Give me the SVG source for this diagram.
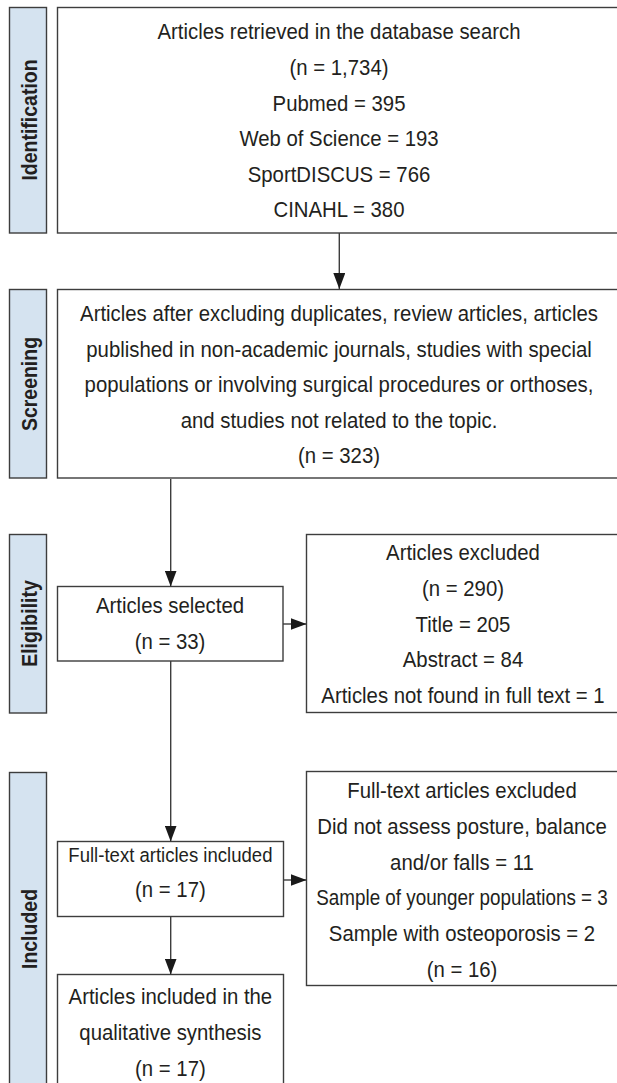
<svg xmlns="http://www.w3.org/2000/svg" width="617" height="1083" viewBox="0 0 617 1083">
<defs>
<style>
.bg{fill:#ffffff}
.box{fill:#ffffff;stroke:#3d3d3d;stroke-width:1.4}
.side{fill:#d5e3f0;stroke:#3d3d3d;stroke-width:1.4}
.t{font-family:"Liberation Sans",Arial,sans-serif;font-size:22.5px;fill:#231f20;text-anchor:middle}
.lab{font-family:"Liberation Sans",Arial,sans-serif;font-size:22px;font-weight:bold;fill:#231f20;text-anchor:middle}
.conn{fill:none;stroke:#3d3d3d;stroke-width:1.4}
</style>
<marker id="ah" markerUnits="userSpaceOnUse" markerWidth="16" markerHeight="12" refX="16" refY="6" orient="auto">
<path d="M0,0 L16,6 L0,12 Z" fill="#1a1a1a"/>
</marker>
</defs>
<rect class="bg" x="0" y="0" width="617" height="1083"/>

<g id="label-identification">
<rect class="side" x="9.5" y="7.5" width="37" height="225.5"/>
<text class="lab" transform="translate(28,120) rotate(-90) scale(0.886,1)" x="0" y="8.5">Identification</text>
</g>
<g id="node-identification">
<rect class="box" x="57.5" y="7.5" width="565" height="225.5"/>
<g transform="translate(339,0) scale(0.905,1)">
<text class="t" x="0" y="39.5">Articles retrieved in the database search</text>
<text class="t" x="0" y="75.1">(n = 1,734)</text>
<text class="t" x="0" y="110.7">Pubmed = 395</text>
<text class="t" x="0" y="146.3">Web of Science = 193</text>
<text class="t" x="0" y="181.9">SportDISCUS = 766</text>
<text class="t" x="0" y="217.5">CINAHL = 380</text>
</g>
</g>

<g id="label-screening">
<rect class="side" x="9.5" y="289.5" width="37" height="188.5"/>
<text class="lab" transform="translate(28,384) rotate(-90) scale(0.886,1)" x="0" y="8.5">Screening</text>
</g>
<g id="node-screening">
<rect class="box" x="57.5" y="289.5" width="565" height="188.5"/>
<g transform="translate(339,0) scale(0.905,1)">
<text class="t" x="0" y="321">Articles after excluding duplicates, review articles, articles</text>
<text class="t" x="0" y="356.6">published in non-academic journals, studies with special</text>
<text class="t" x="0" y="392.2">populations or involving surgical procedures or orthoses,</text>
<text class="t" x="0" y="427.8">and studies not related to the topic.</text>
<text class="t" x="0" y="463.4">(n = 323)</text>
</g>
</g>

<g id="label-eligibility">
<rect class="side" x="9.5" y="534.5" width="37" height="178.5"/>
<text class="lab" transform="translate(28,623.5) rotate(-90) scale(0.886,1)" x="0" y="8.5">Eligibility</text>
</g>
<g id="node-selected">
<rect class="box" x="57.5" y="586.5" width="225.5" height="74.5"/>
<g transform="translate(170,0) scale(0.905,1)">
<text class="t" x="0" y="613.5">Articles selected</text>
<text class="t" x="0" y="649">(n = 33)</text>
</g>
</g>
<g id="node-excluded">
<rect class="box" x="306.5" y="534.5" width="316" height="178"/>
<g transform="translate(463,0) scale(0.905,1)">
<text class="t" x="0" y="560">Articles excluded</text>
<text class="t" x="0" y="595.8">(n = 290)</text>
<text class="t" x="0" y="631.6">Title = 205</text>
<text class="t" x="0" y="667.4">Abstract = 84</text>
<text class="t" x="0" y="703.2">Articles not found in full text = 1</text>
</g>
</g>

<g id="label-included">
<rect class="side" x="9.5" y="772.5" width="37" height="314"/>
<text class="lab" transform="translate(28,929) rotate(-90) scale(0.886,1)" x="0" y="8.5">Included</text>
</g>
<g id="node-fulltext-included">
<rect class="box" x="57.5" y="841.5" width="226" height="75"/>
<g transform="translate(170.4,0) scale(0.905,1)">
<text class="t" x="0" y="862" style="font-size:20.5px">Full-text articles included</text>
<text class="t" x="0" y="897.5">(n = 17)</text>
</g>
</g>
<g id="node-fulltext-excluded">
<rect class="box" x="306.5" y="771.5" width="316" height="214"/>
<g transform="translate(462,0) scale(0.905,1)">
<text class="t" x="0" y="798">Full-text articles excluded</text>
<text class="t" x="0" y="833.8">Did not assess posture, balance</text>
<text class="t" x="0" y="869.6">and/or falls = 11</text>
<text class="t" x="0" y="905.4" textLength="322" lengthAdjust="spacingAndGlyphs">Sample of younger populations = 3</text>
<text class="t" x="0" y="941.2">Sample with osteoporosis = 2</text>
<text class="t" x="0" y="977">(n = 16)</text>
</g>
</g>
<g id="node-synthesis">
<rect class="box" x="57.5" y="974.5" width="226" height="130"/>
<g transform="translate(170.4,0) scale(0.905,1)">
<text class="t" x="0" y="1004">Articles included in the</text>
<text class="t" x="0" y="1040">qualitative synthesis</text>
<text class="t" x="0" y="1076.5">(n = 17)</text>
</g>
</g>

<g id="connectors">
<path class="conn" d="M339.3,233 V289" marker-end="url(#ah)"/>
<path class="conn" d="M170.7,479 V586.5" marker-end="url(#ah)"/>
<path class="conn" d="M283,624 H306.5" marker-end="url(#ah)"/>
<path class="conn" d="M170.7,661 V841.5" marker-end="url(#ah)"/>
<path class="conn" d="M283.5,880 H306.5" marker-end="url(#ah)"/>
<path class="conn" d="M170.7,916.5 V974.5" marker-end="url(#ah)"/>
</g>
</svg>
